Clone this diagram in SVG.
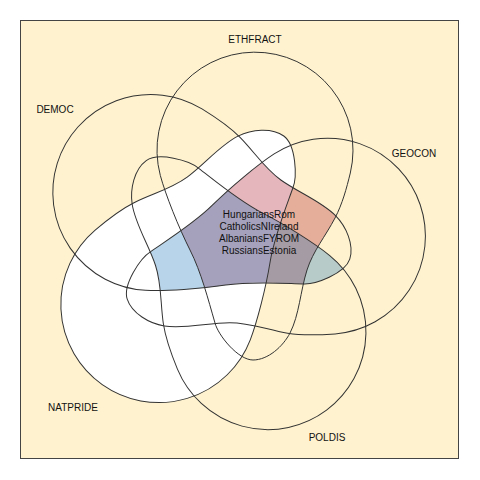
<svg xmlns="http://www.w3.org/2000/svg" width="480" height="480" viewBox="0 0 480 480">
<style>
.out{fill:none;stroke:#333;stroke-width:1}
.lbl{font-family:"Liberation Sans",Arial,sans-serif;font-size:10px;fill:#111;text-anchor:middle}
</style>
<defs>
<path id="shp" d="M350.3,173 C346.5,188.6 342.4,203.8 335,218 C325.8,235.8 313,251 307,270 C300.4,290.9 299.2,315.2 290,333 C283.1,346.4 268,360 253,360 C238,360 218,335 215,323 C208,299 201.25,272.25 190,250 C178.75,227.75 165.5,194.7 160.3,175.4 A98,98 0 1 1 350.3,173 Z"/>
<clipPath id="cD"><use href="#shp" transform="rotate(288 232 243)"/></clipPath>
<clipPath id="cG"><use href="#shp" transform="rotate(72 232 243)"/></clipPath>
</defs>
<rect x="20.5" y="20.5" width="438" height="438" fill="#FFF3CF" stroke="#444" stroke-width="1"/>
<g id="fills">
<use href="#shp" transform="rotate(216 232 243)" fill="#ffffff"/>
<g clip-path="url(#cD)"><g clip-path="url(#cG)">
<use id="zone-red" href="#shp" fill="rgb(168,15,38)" fill-opacity="0.3"/>
<use id="zone-blue" href="#shp" transform="rotate(144 232 243)" fill="rgb(18,112,185)" fill-opacity="0.3"/>
</g></g>
</g>
<g id="ETHFRACT"><use href="#shp" class="out"/><text class="lbl" x="255" y="43">ETHFRACT</text></g>
<g id="GEOCON"><use href="#shp" class="out" transform="rotate(72 232 243)"/><text class="lbl" x="414" y="157">GEOCON</text></g>
<g id="POLDIS"><use href="#shp" class="out" transform="rotate(144 232 243)"/><text class="lbl" x="327" y="441">POLDIS</text></g>
<g id="NATPRIDE"><use href="#shp" class="out" transform="rotate(216 232 243)"/><text class="lbl" x="73" y="411">NATPRIDE</text></g>
<g id="DEMOC"><use href="#shp" class="out" transform="rotate(288 232 243)"/><text class="lbl" x="55" y="113">DEMOC</text></g>
<g id="cases" class="lbl">
<text x="259" y="218">HungariansRom</text>
<text x="259" y="230">CatholicsNIreland</text>
<text x="259" y="242">AlbaniansFYROM</text>
<text x="259" y="254">RussiansEstonia</text>
</g>
</svg>
